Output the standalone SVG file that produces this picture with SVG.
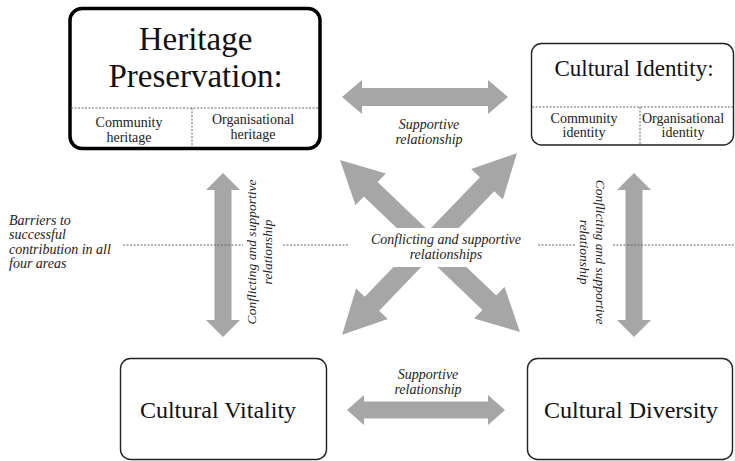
<svg xmlns="http://www.w3.org/2000/svg" width="735" height="461" viewBox="0 0 735 461" font-family="Liberation Serif, DejaVu Serif, serif">
  <defs>
    <style>
      .box { fill: #ffffff; stroke: #222222; stroke-width: 1.4; }
      .box-main { fill: #ffffff; stroke: #000000; stroke-width: 3.5; }
      .dots { stroke: #666666; stroke-width: 1; stroke-dasharray: 2 1.5; fill: none; }
      .arrow { fill: #a6a6a6; stroke: none; }
      .title { fill: #111111; text-anchor: middle; }
      .sub { font-size: 14px; fill: #222222; text-anchor: middle; }
      .note { font-style: italic; font-size: 14px; fill: #222222; }
      .mid { text-anchor: middle; }
    </style>
  </defs>

  <rect width="735" height="461" fill="#ffffff"/>

  <!-- connectors: broad grey double-headed arrows -->
  <g id="connectors">
    <!-- Heritage Preservation <-> Cultural Identity -->
    <polygon class="arrow" transform="translate(425,97)" points="-83,0 -63,-17 -63,-9 63,-9 63,-17 83,0 63,17 63,9 -63,9 -63,17"/>
    <!-- Cultural Vitality <-> Cultural Diversity -->
    <polygon class="arrow" transform="translate(426,410)" points="-79,0 -62,-15 -62,-8.5 62,-8.5 62,-15 79,0 62,15 62,8.5 -62,8.5 -62,15"/>
    <!-- Heritage Preservation <-> Cultural Vitality -->
    <polygon class="arrow" transform="translate(223,255) rotate(90)" points="-82,0 -65,-17 -65,-8.5 65,-8.5 65,-17 82,0 65,17 65,8.5 -65,8.5 -65,17"/>
    <!-- Cultural Identity <-> Cultural Diversity -->
    <polygon class="arrow" transform="translate(634,255) rotate(90)" points="-82,0 -65,-17 -65,-8.5 65,-8.5 65,-17 82,0 65,17 65,8.5 -65,8.5 -65,17"/>
    <!-- diagonal cross -->
    <polygon class="arrow" transform="translate(430,246) rotate(43.7)" points="-124.5,0 -82,-22 -82,-10 82,-10 82,-22 124.5,0 82,22 82,10 -82,10 -82,22"/>
    <polygon class="arrow" transform="translate(429.5,244) rotate(133.9)" points="-126,0 -83,-22 -83,-10 83,-10 83,-22 126,0 83,22 83,10 -83,10 -83,22"/>
    <!-- clearing behind the central label -->
    <rect x="350" y="228" width="187" height="39" fill="#ffffff"/>

    <!-- barrier line -->
    <line class="dots" x1="123" y1="245" x2="243" y2="245"/>
    <line class="dots" x1="283" y1="245" x2="348" y2="245"/>
    <line class="dots" x1="538" y1="245" x2="576" y2="245"/>
    <line class="dots" x1="613" y1="245" x2="735" y2="245"/>

    <!-- connector labels -->
    <text class="note mid" x="429" y="129">Supportive</text>
    <text class="note mid" x="429" y="144">relationship</text>

    <text class="note mid" x="446" y="244">Conflicting and supportive</text>
    <text class="note mid" x="446" y="259">relationships</text>

    <text class="note mid" x="428" y="379">Supportive</text>
    <text class="note mid" x="428" y="394">relationship</text>

    <g transform="translate(256,252) rotate(-90)">
      <text class="note mid" x="0" y="0" style="font-size:13.5px">Conflicting and supportive</text>
      <text class="note mid" x="0" y="16" style="font-size:13.5px">relationship</text>
    </g>
    <g transform="translate(596,252) rotate(90)">
      <text class="note mid" x="0" y="0" style="font-size:13.5px">Conflicting and supportive</text>
      <text class="note mid" x="0" y="16" style="font-size:13.5px">relationship</text>
    </g>
  </g>

  <!-- side note -->
  <g id="barriers">
    <text class="note" x="9" y="225">Barriers to</text>
    <text class="note" x="9" y="239">successful</text>
    <text class="note" x="9" y="254">contribution in all</text>
    <text class="note" x="9" y="268">four areas</text>
  </g>

  <!-- nodes -->
  <g id="heritage-preservation">
    <rect class="box-main" x="70" y="8.5" width="250" height="140" rx="12"/>
    <line class="dots" x1="71" y1="108" x2="319" y2="108"/>
    <line class="dots" x1="192" y1="108" x2="192" y2="147"/>
    <text class="title" x="195.5" y="50" font-size="33">Heritage</text>
    <text class="title" x="195.5" y="87" font-size="33">Preservation:</text>
    <text class="sub" x="129" y="127">Community</text>
    <text class="sub" x="129" y="142">heritage</text>
    <text class="sub" x="253" y="124">Organisational</text>
    <text class="sub" x="253" y="139">heritage</text>
  </g>

  <g id="cultural-identity">
    <rect class="box" x="531.5" y="43.5" width="202" height="101.5" rx="10"/>
    <line class="dots" x1="532" y1="107" x2="733" y2="107"/>
    <line class="dots" x1="640" y1="107" x2="640" y2="144"/>
    <text class="title" x="634" y="76" font-size="23">Cultural Identity:</text>
    <text class="sub" x="584" y="123">Community</text>
    <text class="sub" x="584" y="137">identity</text>
    <text class="sub" x="683" y="123">Organisational</text>
    <text class="sub" x="683" y="137">identity</text>
  </g>

  <g id="cultural-vitality">
    <rect class="box" x="120.5" y="358.5" width="206" height="101" rx="10"/>
    <text class="title" x="218" y="418" font-size="24">Cultural Vitality</text>
  </g>

  <g id="cultural-diversity">
    <rect class="box" x="527.5" y="358.5" width="205" height="101" rx="10"/>
    <text class="title" x="631" y="418" font-size="24">Cultural Diversity</text>
  </g>
</svg>
